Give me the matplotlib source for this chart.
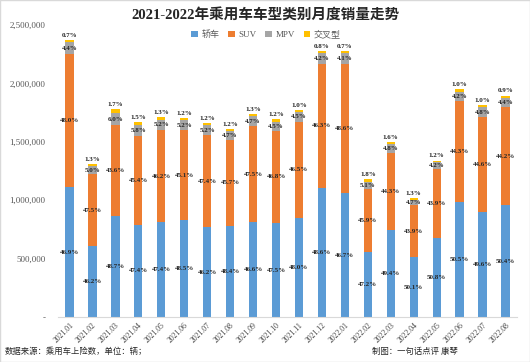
import matplotlib
matplotlib.use("Agg")
import matplotlib.pyplot as plt
from matplotlib.patches import Rectangle
import numpy as np

plt.rcParams['font.family'] = ['Liberation Serif', 'Noto Sans CJK SC', 'DejaVu Sans']

months = ["2021.01", "2021.02", "2021.03", "2021.04", "2021.05", "2021.06", "2021.07",
          "2021.08", "2021.09", "2021.10", "2021.11", "2021.12", "2022.01", "2022.02",
          "2022.03", "2022.04", "2022.05", "2022.06", "2022.07", "2022.08"]
totals = [2371000, 1308000, 1778000, 1667000, 1711000, 1707000, 1664000, 1613000,
          1738000, 1692000, 1770000, 2280000, 2273000, 1179000, 1500000, 1018000,
          1338000, 1950000, 1814000, 1898000]
sedan_pct = [46.9, 46.2, 48.7, 47.4, 47.4, 48.5, 46.2, 48.4, 46.6, 47.5, 48.0, 48.6, 46.7,
             47.2, 49.4, 50.1, 50.8, 50.5, 49.6, 50.4]
suv_pct = [48.0, 47.5, 43.6, 45.4, 46.2, 45.1, 47.4, 45.7, 47.5, 46.8, 46.5, 46.3, 48.6,
           45.9, 44.3, 43.9, 43.9, 44.3, 44.6, 44.2]
mpv_pct = [4.4, 5.0, 6.0, 5.8, 5.2, 5.2, 5.2, 4.7, 4.7, 4.5, 4.5, 4.2, 4.1,
           5.1, 4.8, 4.7, 4.2, 4.2, 4.8, 4.4]
cross_pct = [0.7, 1.3, 1.7, 1.5, 1.3, 1.2, 1.2, 1.2, 1.3, 1.2, 1.0, 0.8, 0.7,
             1.8, 1.6, 1.3, 1.2, 1.0, 1.0, 0.9]
series_names = ["轿车", "SUV", "MPV", "交叉型"]
colors = ["#5B9BD5", "#ED7D31", "#A5A5A5", "#FFC000"]
yticks = [0, 500000, 1000000, 1500000, 2000000, 2500000]
ytick_labels = ["-", "500,000", "1,000,000", "1,500,000", "2,000,000", "2,500,000"]

W, H = 530, 362
fig = plt.figure(figsize=(W / 100, H / 100), dpi=100)
ax = fig.add_axes([58 / W, 1 - 317 / H, (517 - 58) / W, (317 - 25) / H])

x = np.arange(len(months))
tot = np.array(totals, dtype=float)
pcts = [np.array(p) for p in (sedan_pct, suv_pct, mpv_pct, cross_pct)]
bottom = np.zeros(len(months))
for i, (p, c, name) in enumerate(zip(pcts, colors, series_names)):
    h = tot * p / 100.0
    ax.bar(x, h, bottom=bottom, width=0.36, color=c, label=name, zorder=2)
    for xi, b, hi, pi in zip(x, bottom, h, p):
        if i < 3:
            ax.text(xi, b + hi / 2, f"{pi:.1f}%", ha="center", va="center",
                    fontsize=5, fontweight="bold", color="#262626", zorder=3)
        else:
            ax.annotate(f"{pi:.1f}%", (xi, b + hi), xytext=(0, 1.5),
                        textcoords="offset points", ha="center", va="bottom",
                        fontsize=5, fontweight="bold", color="#262626", zorder=3)
    bottom = bottom + h

ax.set_xlim(-0.5, len(months) - 0.5)
ax.set_ylim(0, 2500000)
ax.set_yticks(yticks)
ax.set_yticklabels(ytick_labels, fontsize=6.5, color="#595959")
ax.set_xticks(x)
ax.set_xticklabels(months, rotation=45, ha="right", rotation_mode="anchor",
                   fontsize=5.5, color="#404040")
ax.tick_params(axis="y", length=0, pad=9)
ax.tick_params(axis="x", length=0, pad=3)
for s in ("top", "right", "left"):
    ax.spines[s].set_visible(False)
ax.spines["bottom"].set_color("#D9D9D9")
ax.spines["bottom"].set_linewidth(0.8)

fig.text(0.5, 1 - 15 / H, "2021-2022年乘用车车型类别月度销量走势", ha="center", va="center",
         fontsize=10.5, fontweight="bold", color="#262626")
leg = fig.legend(loc="center", bbox_to_anchor=(266 / W, 1 - 35 / H), ncol=4, frameon=False,
                 fontsize=6.5, handlelength=0.7, handleheight=0.7, handletextpad=0.4,
                 columnspacing=1.0)
for t in leg.get_texts():
    t.set_color("#595959")

fig.text(5 / W, 1 - 352 / H, "数据来源：乘用车上险数，单位：辆；", ha="left", va="center",
         fontsize=6, color="#262626")
fig.text(372 / W, 1 - 352 / H, "制图：一句话点评 康琴", ha="left", va="center",
         fontsize=6, color="#262626")

fig.patches.append(Rectangle((0, 0), 1, 1, transform=fig.transFigure, fill=False,
                             edgecolor="#D9D9D9", linewidth=1))
fig.savefig("out.png", dpi=100)
